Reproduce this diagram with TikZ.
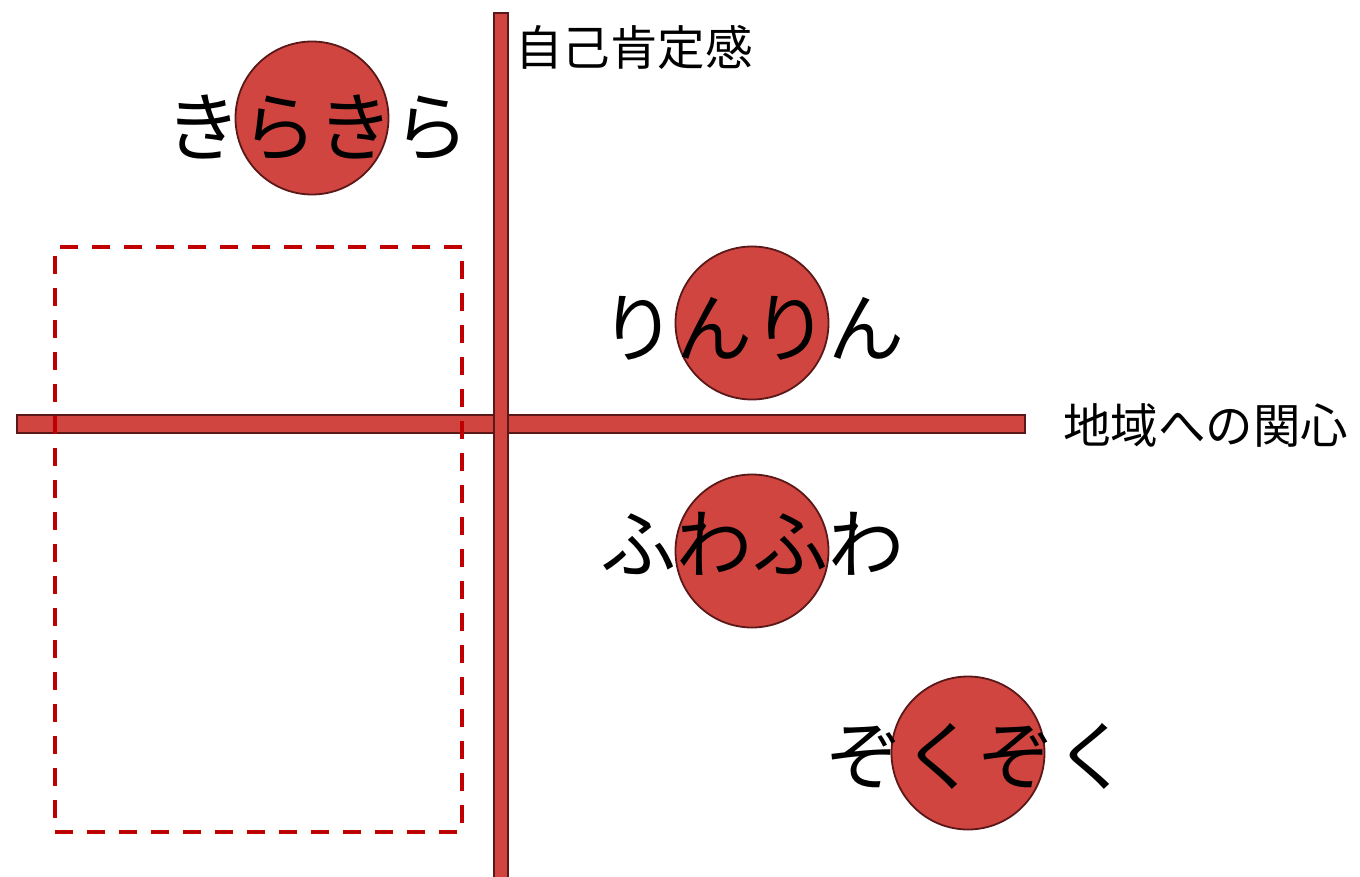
\documentclass[tikz,border=0pt]{standalone}
\usepackage{fontspec}
\setmainfont{Noto Sans CJK JP}
\definecolor{ballfill}{RGB}{208,69,64}
\definecolor{balledge}{RGB}{90,24,24}
\definecolor{dashred}{RGB}{192,0,0}
\begin{document}
\begin{tikzpicture}[x=1pt,y=-1pt,
  bar/.style={fill=ballfill,draw=balledge,line width=2pt},
  ball/.style={circle,fill=ballfill,draw=balledge,line width=1.8pt,minimum size=153pt,inner sep=0pt},
  bigtxt/.style={font=\fontsize{76}{76}\selectfont,inner sep=0pt,anchor=center},
  axtxt/.style={font=\fontsize{47.5}{47.5}\selectfont,inner sep=0pt},
  zone/.style={draw=dashred,line width=4pt,dash pattern=on 18pt off 14pt}]
\useasboundingbox (0,0) rectangle (1360,876);
% axes
\node[bar,minimum width=1008pt,minimum height=18pt,inner sep=0pt,anchor=north west] (haxis) at (16,414) {};
\node[bar,minimum width=14pt,minimum height=880pt,inner sep=0pt,anchor=north west] (vaxis) at (493,12) {};
% dashed zone
\node[zone,minimum width=407pt,minimum height=585pt,inner sep=0pt,anchor=north west] (zone) at (53,245) {};
% balls
\node[ball] (b1) at (312,118) {};
\node[ball] (b2) at (752,323) {};
\node[ball] (b3) at (752,551) {};
\node[ball] (b4) at (968,753) {};
% labels
\node[bigtxt] (t1) at (317,128) {きらきら};
\node[bigtxt] (t2) at (752,328) {りんりん};
\node[bigtxt] (t3) at (752,544) {ふわふわ};
\node[bigtxt] (t4) at (978,756) {ぞくぞく};
\node[axtxt,anchor=west] (ylab) at (515,47) {自己肯定感};
\node[axtxt,anchor=west] (xlab) at (1063,425) {地域への関心};
\end{tikzpicture}
\end{document}
